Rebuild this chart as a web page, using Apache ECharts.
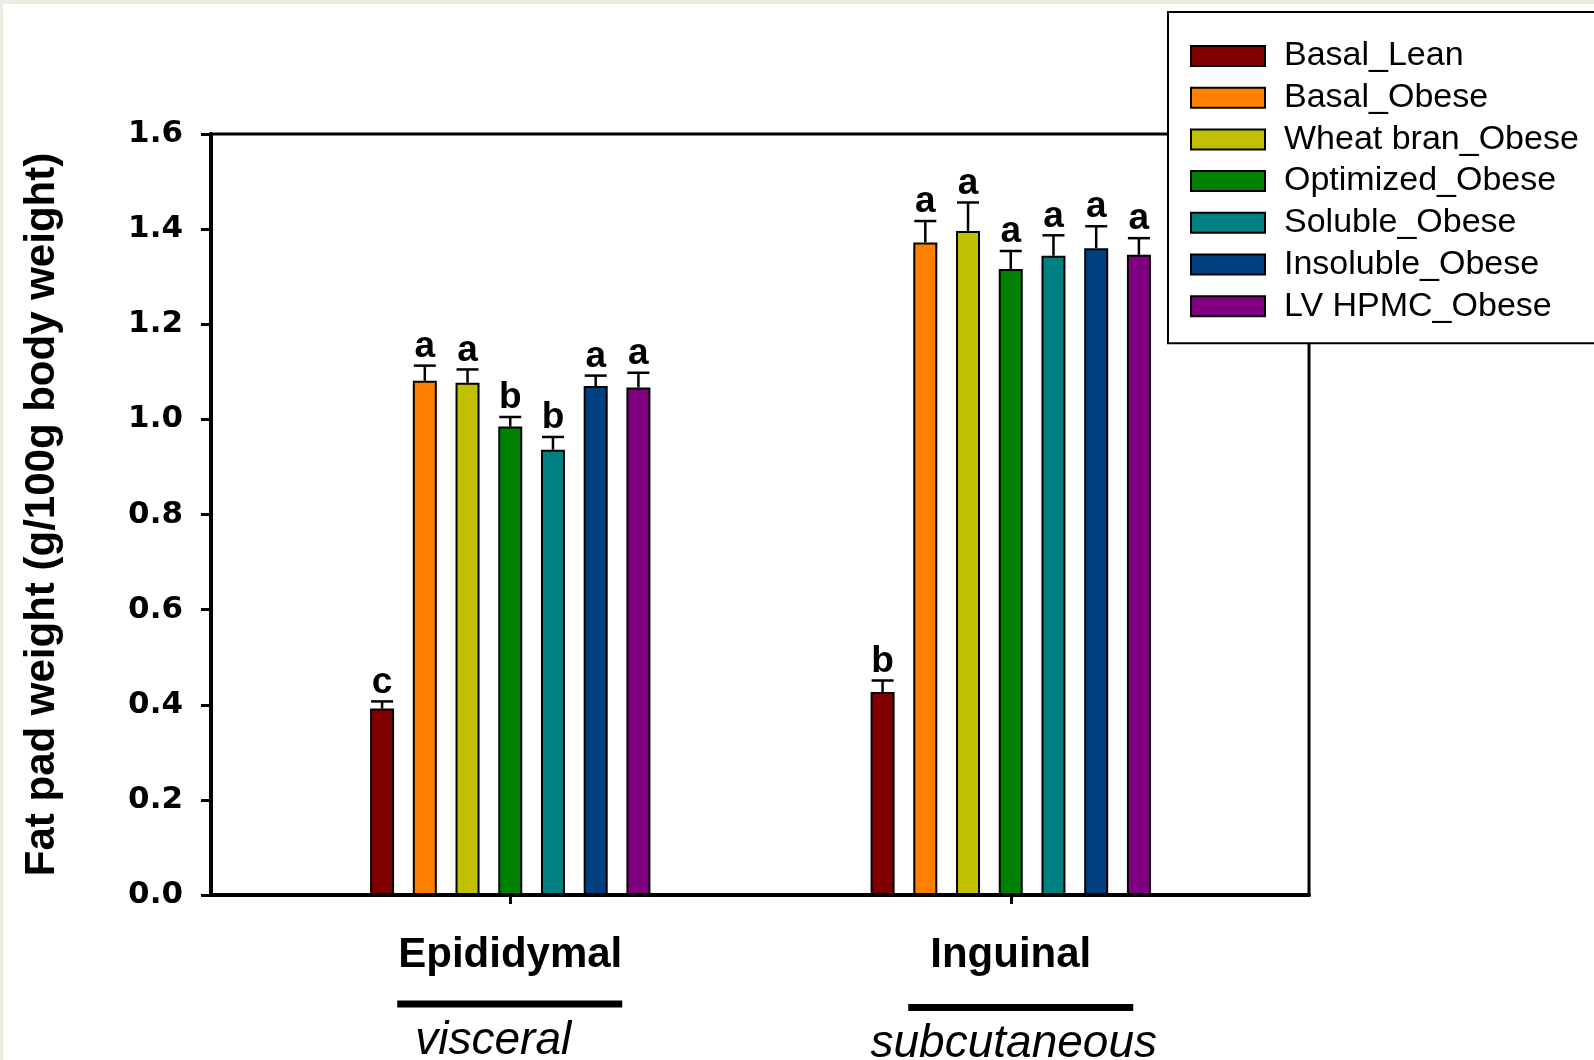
<!DOCTYPE html>
<html>
<head>
<meta charset="utf-8">
<script src="https://cdn.jsdelivr.net/npm/echarts@6/dist/echarts.min.js"></script>
<style>
  html, body { margin: 0; padding: 0; background: #eeebe2; overflow: hidden; }
  #panel { position: absolute; left: 3px; top: 4px; right: 0; bottom: 0; background: #fff; }
  #chart { position: absolute; left: 0; top: 0; width: 1594px; height: 1060px; }
</style>
</head>
<body>
<div id="panel"></div>
<div id="chart"></div>
<script>
// Fat pad depots on the category axis, with their anatomical type underneath
const depots = ['Epididymal', 'Inguinal'];
const depotTypes = ['visceral', 'subcutaneous'];

// Diet groups (one bar series each)
const groups = ['Basal_Lean', 'Basal_Obese', 'Wheat bran_Obese', 'Optimized_Obese',
                'Soluble_Obese', 'Insoluble_Obese', 'LV HPMC_Obese'];
const groupColors = ['#800000', '#ff8000', '#c0c000', '#008000', '#008080', '#004080', '#800080'];

// Mean fat pad weight (g/100g body weight), per group
const meanEpididymal = [0.392, 1.081, 1.077, 0.985, 0.936, 1.070, 1.067];
const meanInguinal   = [0.427, 1.372, 1.396, 1.316, 1.344, 1.360, 1.346];

// Standard error (upper error bar), per group
const semEpididymal = [0.015, 0.032, 0.028, 0.020, 0.027, 0.022, 0.031];
const semInguinal   = [0.024, 0.045, 0.060, 0.038, 0.043, 0.046, 0.035];

// Significance letters, per group
const lettersEpididymal = ['c', 'a', 'a', 'b', 'b', 'a', 'a'];
const lettersInguinal   = ['b', 'a', 'a', 'a', 'a', 'a', 'a'];

// Value axis ticks
const yTicks = [0, 0.2, 0.4, 0.6, 0.8, 1.0, 1.2, 1.4, 1.6];

const BAR_WIDTH = 24;
const BAR_GAP = 0.78;
const PITCH = BAR_WIDTH * (1 + BAR_GAP);
const CAP_HALF = 11;

const chart = echarts.init(document.getElementById('chart'), null, { renderer: 'canvas' });

const barSeries = groups.map((name, i) => ({
  name: name,
  type: 'bar',
  xAxisIndex: 1,
  yAxisIndex: 1,
  barWidth: BAR_WIDTH,
  barGap: (BAR_GAP * 100) + '%',
  itemStyle: { color: groupColors[i], borderColor: '#000', borderWidth: 2 },
  emphasis: { disabled: true },
  data: [meanEpididymal[i], meanInguinal[i]],
  z: 2
}));

const errorSeries = groups.map((name, i) => {
  const letters = [lettersEpididymal[i], lettersInguinal[i]];
  const offset = (i - (groups.length - 1) / 2) * PITCH;
  return {
    name: name + ' SEM',
    type: 'custom',
    xAxisIndex: 1,
    yAxisIndex: 1,
    z: 3,
    silent: true,
    data: [[0, meanEpididymal[i], semEpididymal[i]], [1, meanInguinal[i], semInguinal[i]]],
    renderItem: function (params, api) {
      const cat = api.value(0), m = api.value(1), e = api.value(2);
      const base = api.coord([cat, m]);
      const top = api.coord([cat, m + e]);
      const x = base[0] + offset;
      return {
        type: 'group',
        children: [
          { type: 'line', shape: { x1: x, y1: base[1], x2: x, y2: top[1] },
            style: { stroke: '#000', lineWidth: 2.5 } },
          { type: 'line', shape: { x1: x - CAP_HALF, y1: top[1], x2: x + CAP_HALF, y2: top[1] },
            style: { stroke: '#000', lineWidth: 2.5 } },
          { type: 'text', x: x, y: top[1] - 19,
            style: { text: letters[params.dataIndex], fill: '#000',
                     font: 'bold 37px "Liberation Sans", Arial, sans-serif',
                     align: 'center', verticalAlign: 'middle' } }
        ]
      };
    }
  };
});

const option = {
  animation: false,
  backgroundColor: 'transparent',
  grid: [
    // plot frame
    { left: 211, right: 285, top: 134, bottom: 165, show: true,
      borderColor: '#000', borderWidth: 3, backgroundColor: 'transparent' },
    // bars
    { left: 260, right: 333, top: 134, bottom: 165 }
  ],
  xAxis: [
    { gridIndex: 0, type: 'value', min: 0, max: 1,
      axisLine: { show: true, lineStyle: { color: '#000', width: 4 } },
      axisTick: { show: false }, axisLabel: { show: false }, splitLine: { show: false } },
    { gridIndex: 1, type: 'category', data: depots,
      axisLine: { show: false },
      axisTick: { show: true, alignWithLabel: true, length: 9, lineStyle: { color: '#000', width: 3 } },
      axisLabel: { margin: 35, color: '#000', fontSize: 42, fontWeight: 'bold',
                   fontFamily: '"Liberation Sans", Arial, sans-serif', lineHeight: 50 },
      splitLine: { show: false } }
  ],
  yAxis: [
    { gridIndex: 0, type: 'value', min: 0, max: 1.6, interval: 0.2,
      name: 'Fat pad weight (g/100g body weight)',
      nameLocation: 'middle', nameRotate: 90, nameGap: 148,
      nameTextStyle: { color: '#000', fontSize: 42, fontWeight: 'bold',
                       fontFamily: '"Liberation Sans", Arial, sans-serif' },
      axisLine: { show: true, lineStyle: { color: '#000', width: 4 } },
      axisTick: { show: true, length: 10, lineStyle: { color: '#000', width: 3 } },
      axisLabel: { margin: 28, color: '#000', fontSize: 31, fontWeight: 'bold',
                   fontFamily: '"DejaVu Sans", sans-serif',
                   formatter: v => yTicks.indexOf(Math.round(v * 10) / 10) >= 0 ? v.toFixed(1) : '' },
      splitLine: { show: false } },
    { gridIndex: 1, type: 'value', min: 0, max: 1.6, interval: 0.2, show: false,
      splitLine: { show: false } }
  ],
  legend: {
    data: groups.map(g => ({ name: g, icon: 'rect' })),
    orient: 'vertical',
    left: 1168,
    top: 12,
    padding: [27, 80, 20, 22],
    itemWidth: 74,
    itemHeight: 20,
    itemGap: 7.7,
    backgroundColor: '#fff',
    borderColor: '#000',
    borderWidth: 2,
    borderRadius: 0,
    selectedMode: false,
    textStyle: { color: '#000', fontSize: 34,
                 fontFamily: '"Liberation Sans", Arial, sans-serif', padding: [0, 0, 0, 14] }
  },
  series: barSeries.concat(errorSeries)
};

chart.setOption(option);

// Underline and anatomical type below each depot label, anchored on the category axis
const typeOffsets = [{ bar: -0.5, text: -17, barY: 1004, textY: 1041 },
                     { bar: 10, text: 3, barY: 1007.5, textY: 1044 }];
const graphics = [];
depots.forEach((d, i) => {
  const cx = chart.convertToPixel({ xAxisIndex: 1 }, d);
  const o = typeOffsets[i];
  graphics.push({
    type: 'rect', silent: true,
    shape: { x: cx + o.bar - 112.5, y: o.barY - 3.5, width: 225, height: 7 },
    style: { fill: '#000' }
  });
  graphics.push({
    type: 'text', silent: true, x: cx + o.text, y: o.textY,
    style: { text: depotTypes[i], fill: '#000', align: 'center', verticalAlign: 'middle',
             font: 'italic 46px "Liberation Sans", Arial, sans-serif' }
  });
});
chart.setOption({ graphic: graphics });
</script>
</body>
</html>
